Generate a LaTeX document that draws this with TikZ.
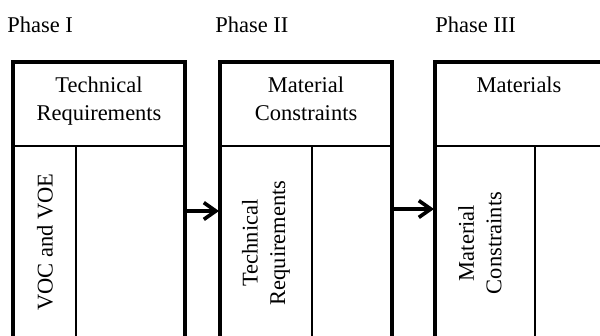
\documentclass[tikz,border=0pt]{standalone}
\usepackage{fontspec}
\setmainfont{Liberation Serif}
\usetikzlibrary{arrows.meta}
\tikzset{
    frame/.style={line width=2.8pt},
    divider/.style={line width=2.1pt},
    flow/.style={line width=2.6pt,-{Straight Barb[length=3mm,width=4.2mm]}},
    phase/.style={anchor=base west,inner sep=0pt},
    heading/.style={anchor=north,align=center,inner sep=0pt},
    sidelabel/.style={rotate=90,align=center,inner sep=0pt}
}

\begin{document}
\begin{tikzpicture}[x=0.025cm,y=-0.025cm,font=\fontsize{16}{19.5}\selectfont]
\clip (0,0) rectangle (600,336);
% phase I
\draw[frame] (13,350) -- (13,62) -- (185,62) -- (185,350);
\draw[divider] (13,146) -- (185,146);
\draw[divider] (76,146) -- (76,350);
% phase II
\draw[frame] (220,350) -- (220,62) -- (392,62) -- (392,350);
\draw[divider] (220,146) -- (392,146);
\draw[divider] (312,146) -- (312,350);
% phase III
\draw[frame] (435,350) -- (435,62) -- (607,62) -- (607,350);
\draw[divider] (435,146) -- (607,146);
\draw[divider] (535,146) -- (535,350);
\coordinate (out1) at (185,211);
\coordinate (in2) at (219,211);
\coordinate (out2) at (392,209);
\coordinate (in3) at (434,209);
\draw[flow] (out1) -- (in2);
\draw[flow] (out2) -- (in3);
\node[phase] (ph1) at (7,32) {Phase I};
\node[phase] (ph2) at (215,32) {Phase II};
\node[phase] (ph3) at (435,32) {Phase III};
\node[heading] (head1) at (99,77) {Technical\\Requirements};
\node[heading] (head2) at (306,77) {Material\\Constraints};
\node[heading] (head3) at (519,77) {Materials};
\node[sidelabel] (side1) at (45,242) {VOC and VOE};
\node[sidelabel] (side2) at (266,243) {Technical\\Requirements};
\node[sidelabel] (side3) at (480,243) {Material\\Constraints};
\end{tikzpicture}
\end{document}
